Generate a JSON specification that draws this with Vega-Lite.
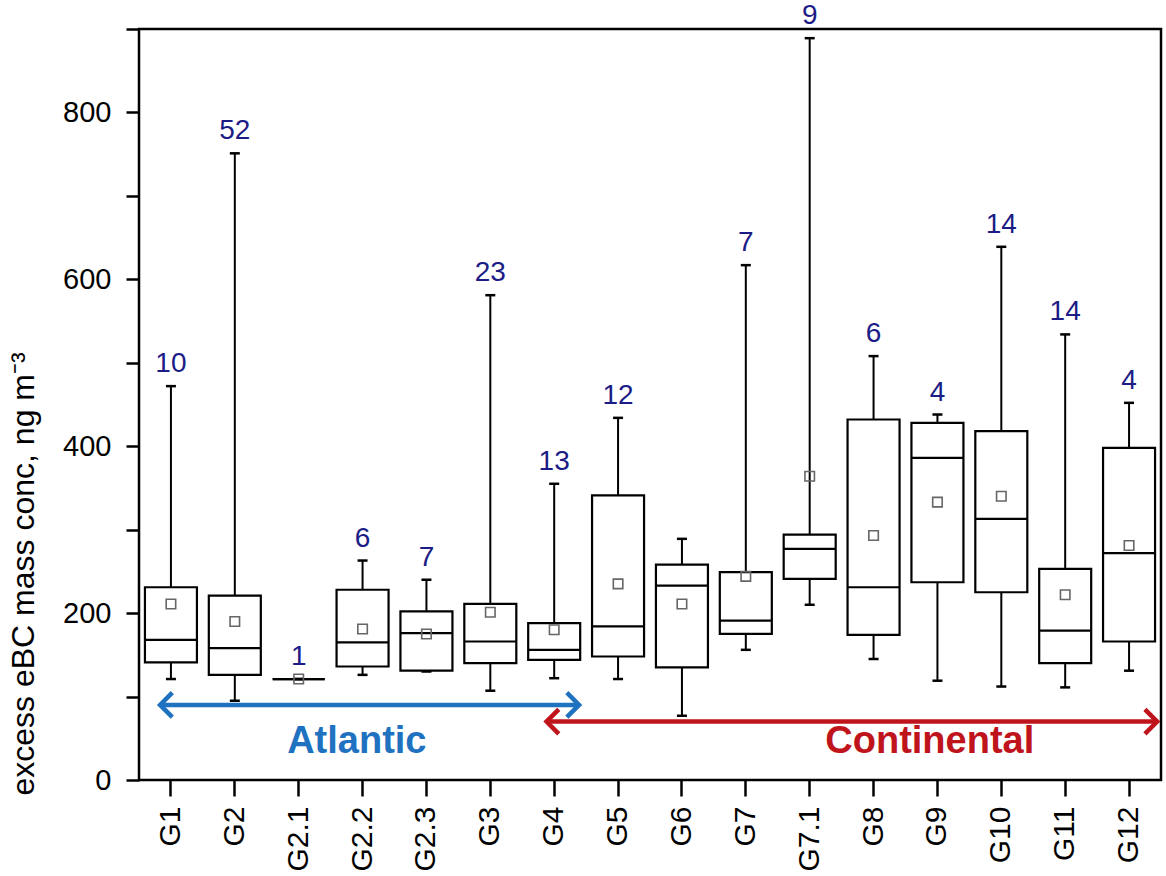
{
  "$schema": "https://vega.github.io/schema/vega-lite/v6.json",
  "autosize": {"type": "none"},
  "width": 1022,
  "height": 751,
  "padding": {"left": 139, "top": 29, "right": 5, "bottom": 96},
  "background": "white",
  "config": {
    "view": {"stroke": "black", "strokeWidth": 2.5},
    "font": "Liberation Sans",
    "axis": {"grid": false}
  },
  "datasets": {
    "boxes": [
      {"group": "G1", "min": 121, "q1": 141, "median": 168, "q3": 231, "max": 472, "mean": 211, "n": "10"},
      {"group": "G2", "min": 95, "q1": 126, "median": 158, "q3": 221, "max": 751, "mean": 190, "n": "52"},
      {"group": "G2.1", "min": 121, "q1": 121, "median": 121, "q3": 121, "max": 121, "mean": 121, "n": "1"},
      {"group": "G2.2", "min": 126, "q1": 136, "median": 165, "q3": 228, "max": 263, "mean": 181, "n": "6"},
      {"group": "G2.3", "min": 130, "q1": 131, "median": 176, "q3": 202, "max": 240, "mean": 175, "n": "7"},
      {"group": "G3", "min": 107, "q1": 140, "median": 166, "q3": 211, "max": 581, "mean": 201, "n": "23"},
      {"group": "G4", "min": 122, "q1": 144, "median": 156, "q3": 188, "max": 355, "mean": 180, "n": "13"},
      {"group": "G5", "min": 121, "q1": 148, "median": 184, "q3": 341, "max": 434, "mean": 235, "n": "12"},
      {"group": "G6", "min": 77, "q1": 135, "median": 233, "q3": 258, "max": 289, "mean": 211, "n": ""},
      {"group": "G7", "min": 156, "q1": 175, "median": 191, "q3": 249, "max": 617, "mean": 244, "n": "7"},
      {"group": "G7.1", "min": 210, "q1": 241, "median": 277, "q3": 294, "max": 889, "mean": 364, "n": "9"},
      {"group": "G8", "min": 145, "q1": 174, "median": 231, "q3": 432, "max": 508, "mean": 293, "n": "6"},
      {"group": "G9", "min": 119, "q1": 237, "median": 386, "q3": 428, "max": 438, "mean": 333, "n": "4"},
      {"group": "G10", "min": 112, "q1": 225, "median": 313, "q3": 418, "max": 639, "mean": 340, "n": "14"},
      {"group": "G11", "min": 111, "q1": 140, "median": 179, "q3": 253, "max": 534, "mean": 222, "n": "14"},
      {"group": "G12", "min": 131, "q1": 166, "median": 272, "q3": 398, "max": 452, "mean": 281, "n": "4"}
    ],
    "regions": [
      {"region": "Atlantic", "start": 0.33, "end": 6.89, "level": 90, "labelPos": 3.41, "labelLevel": 46},
      {"region": "Continental", "start": 6.38, "end": 15.94, "level": 70, "labelPos": 12.38, "labelLevel": 46}
    ]
  },
  "layer": [
    {
      "data": {"name": "boxes"},
      "encoding": {
        "x": {
          "field": "group", "type": "nominal", "sort": null,
          "scale": {"paddingInner": 0, "paddingOuter": 0},
          "axis": {
            "title": null, "labelAngle": -90, "labelFont": "Liberation Sans",
            "labelFontSize": 30, "labelColor": "black", "tickSize": 16, "tickWidth": 2.5,
            "tickColor": "black", "labelPadding": 10, "domain": false
          }
        }
      },
      "layer": [
        {
          "mark": {"type": "rule", "stroke": "black", "strokeWidth": 2},
          "encoding": {
            "y": {
              "field": "min", "type": "quantitative",
              "scale": {"domain": [0, 900], "nice": false},
              "axis": {
                "title": "excess eBC mass conc, ng m⁻³",
                "titleFont": "Liberation Sans", "titleFontSize": 32, "titleFontWeight": "normal",
                "titleColor": "black", "titleAngle": -90, "titleAlign": "left", "titleBaseline": "alphabetic",
                "titleX": -106, "titleY": 766,
                "values": [0, 100, 200, 300, 400, 500, 600, 700, 800, 900],
                "labelExpr": "datum.value % 200 === 0 && datum.value < 900 ? datum.label : ''",
                "labelFont": "Liberation Sans", "labelFontSize": 29, "labelColor": "black",
                "tickSize": 13, "tickWidth": 2.5, "tickColor": "black", "labelPadding": 15,
                "domain": false
              }
            },
            "y2": {"field": "max"}
          }
        },
        {
          "mark": {"type": "bar", "fill": "white", "stroke": "black", "strokeWidth": 2.2, "width": 52},
          "encoding": {
            "y": {"field": "q1", "type": "quantitative"},
            "y2": {"field": "q3"}
          }
        },
        {
          "mark": {"type": "tick", "color": "black", "opacity": 1, "size": 52, "thickness": 2.2, "orient": "horizontal"},
          "encoding": {"y": {"field": "median", "type": "quantitative"}}
        },
        {
          "mark": {"type": "tick", "color": "black", "opacity": 1, "size": 10, "thickness": 2.5, "orient": "horizontal"},
          "encoding": {"y": {"field": "max", "type": "quantitative"}}
        },
        {
          "mark": {"type": "tick", "color": "black", "opacity": 1, "size": 10, "thickness": 2.5, "orient": "horizontal"},
          "encoding": {"y": {"field": "min", "type": "quantitative"}}
        },
        {
          "mark": {"type": "point", "shape": "square", "filled": false, "size": 90, "stroke": "#666666", "strokeWidth": 1.6, "opacity": 1},
          "encoding": {"y": {"field": "mean", "type": "quantitative"}}
        },
        {
          "mark": {"type": "text", "fontSize": 28, "color": "#1c1c86", "baseline": "alphabetic", "align": "center", "dy": -14},
          "encoding": {
            "y": {"field": "max", "type": "quantitative"},
            "text": {"field": "n"}
          }
        }
      ]
    },
    {
      "data": {"name": "regions"},
      "encoding": {
        "color": {
          "field": "region", "type": "nominal",
          "scale": {"domain": ["Atlantic", "Continental"], "range": ["#1f72c0", "#c0141c"]},
          "legend": null
        }
      },
      "layer": [
        {
          "mark": {"type": "rule", "strokeWidth": 4.5},
          "encoding": {
            "x": {"field": "start", "type": "quantitative", "scale": {"domain": [0, 16], "nice": false, "zero": false}, "axis": null},
            "x2": {"field": "end"},
            "y": {"field": "level", "type": "quantitative"}
          }
        },
        {
          "mark": {"type": "point", "shape": "M1,-1L0,0L1,1", "filled": false, "size": 600, "strokeWidth": 4.5, "opacity": 1, "strokeJoin": "miter"},
          "encoding": {
            "x": {"field": "start", "type": "quantitative"},
            "y": {"field": "level", "type": "quantitative"},
            "stroke": {"field": "region", "type": "nominal", "scale": {"domain": ["Atlantic", "Continental"], "range": ["#1f72c0", "#c0141c"]}, "legend": null}
          }
        },
        {
          "mark": {"type": "point", "shape": "M-1,-1L0,0L-1,1", "filled": false, "size": 600, "strokeWidth": 4.5, "opacity": 1, "strokeJoin": "miter"},
          "encoding": {
            "x": {"field": "end", "type": "quantitative"},
            "y": {"field": "level", "type": "quantitative"},
            "stroke": {"field": "region", "type": "nominal", "scale": {"domain": ["Atlantic", "Continental"], "range": ["#1f72c0", "#c0141c"]}, "legend": null}
          }
        },
        {
          "mark": {"type": "text", "fontSize": 38, "fontWeight": "bold", "baseline": "middle", "align": "center"},
          "encoding": {
            "x": {"field": "labelPos", "type": "quantitative"},
            "y": {"field": "labelLevel", "type": "quantitative"},
            "text": {"field": "region"}
          }
        }
      ]
    }
  ],
  "resolve": {"scale": {"x": "independent"}}
}
